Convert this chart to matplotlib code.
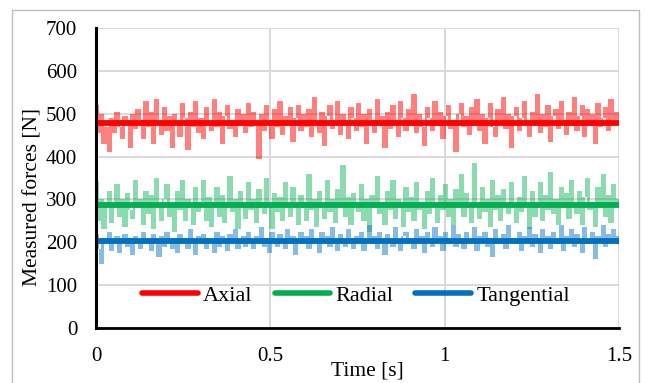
import numpy as np
import matplotlib
matplotlib.use("Agg")
import matplotlib.pyplot as plt
from matplotlib.patches import Rectangle

# ---------------- data ----------------
axial = [
    520, 455, 500, 430, 470, 410, 490, 455, 505, 470, 440, 495, 480, 420, 500, 465, 510, 485, 440, 530,
    470, 505, 430, 535, 480, 450, 515, 460, 495, 420, 500, 475, 445, 525, 490, 415, 505, 470, 530, 455,
    490, 440, 515, 480, 460, 535, 470, 505, 430, 495, 520, 465, 485, 445, 510, 475, 500, 455, 525, 470,
    505, 480, 395, 500, 460, 520, 485, 440, 510, 470, 530, 450, 495, 475, 515, 435, 490, 520, 460, 500,
    470, 510, 445, 540, 480, 455, 505, 425, 495, 520, 465, 485, 530, 450, 500, 475, 440, 515, 490, 460,
    525, 470, 500, 430, 510, 485, 455, 535, 475, 495, 420, 505, 465, 520, 480, 445, 530, 490, 460, 510,
    480, 545, 455, 500, 470, 425, 515, 490, 460, 530, 475, 505, 440, 495, 520, 465, 485, 410, 500, 525,
    470, 495, 450, 515, 480, 535, 460, 500, 430, 490, 525, 470, 445, 510, 485, 540, 465, 500, 420, 495,
    515, 460, 490, 530, 475, 445, 505, 480, 545, 455, 500, 470, 520, 435, 495, 510, 465, 530, 485, 450,
    505, 475, 540, 460, 495, 520, 445, 510, 480, 500, 430, 525, 470, 490, 515, 460, 535, 485, 505, 475,
]
radial = [
    340, 250, 300, 230, 290, 320, 245, 285, 335, 260, 300, 235, 315, 275, 255, 345, 280, 300, 240, 320,
    265, 310, 230, 350, 285, 250, 300, 335, 260, 290, 225, 320, 275, 345, 250, 300, 280, 240, 330, 270,
    295, 345, 250, 305, 235, 280, 330, 260, 310, 245, 290, 355, 270, 300, 230, 320, 285, 255, 340, 275,
    300, 245, 325, 280, 265, 350, 290, 230, 315, 270, 305, 250, 340, 285, 260, 330, 295, 240, 310, 280,
    250, 360, 275, 300, 235, 320, 285, 255, 345, 270, 300, 245, 325, 290, 380, 260, 305, 240, 315, 285,
    270, 335, 250, 300, 225, 310, 280, 355, 265, 295, 240, 320, 275, 345, 255, 300, 285, 235, 330, 270,
    305, 250, 340, 275, 295, 230, 320, 265, 350, 285, 245, 310, 275, 335, 260, 300, 240, 325, 285, 360,
    260, 315, 280, 245, 385, 290, 255, 330, 270, 300, 235, 345, 275, 310, 250, 325, 290, 265, 340, 280,
    245, 305, 270, 355, 285, 230, 320, 260, 295, 340, 250, 310, 275, 365, 265, 300, 240, 330, 280, 315,
    255, 345, 290, 265, 320, 240, 305, 350, 275, 295, 235, 330, 280, 360, 260, 310, 245, 335, 285, 300,
]
tangential = [
    220, 185, 150, 210, 195, 225, 180, 205, 215, 175, 200, 220, 190, 210, 170, 215, 200, 185, 225, 195,
    210, 180, 220, 200, 165, 215, 190, 225, 205, 185, 210, 175, 220, 195, 210, 185, 230, 200, 170, 215,
    195, 220, 185, 210, 200, 175, 225, 190, 215, 200, 180, 220, 195, 230, 185, 205, 215, 190, 225, 200,
    185, 215, 200, 235, 190, 210, 175, 225, 200, 190, 220, 205, 185, 230, 195, 215, 170, 210, 225, 195,
    215, 185, 230, 200, 210, 175, 225, 195, 215, 190, 235, 205, 180, 220, 200, 190, 230, 210, 185, 215,
    200, 225, 180, 210, 240, 195, 215, 185, 225, 200, 170, 220, 205, 190, 235, 200, 180, 215, 225, 195,
    210, 185, 230, 200, 215, 175, 225, 205, 190, 235, 200, 215, 180, 225, 195, 210, 240, 190, 220, 200,
    185, 225, 205, 195, 235, 180, 215, 200, 225, 190, 210, 165, 230, 205, 195, 220, 185, 240, 200, 210,
    195, 225, 180, 215, 200, 235, 190, 220, 205, 175, 230, 200, 215, 185, 225, 210, 195, 240, 180, 215,
    205, 230, 190, 220, 200, 175, 235, 210, 195, 225, 160, 215, 200, 240, 190, 220, 205, 230, 195, 215,
]
axial_mean = 478
radial_mean = 288
tangential_mean = 203
series_names = ["Axial", "Radial", "Tangential"]
t_start, t_end = 0.0, 1.5
x_ticks = [0, 0.5, 1, 1.5]
x_ticklabels = ["0", "0.5", "1", "1.5"]
y_ticks = [0, 100, 200, 300, 400, 500, 600, 700]

# ---------------- plot ----------------
plt.rcParams['font.family'] = ['Liberation Serif', 'DejaVu Serif']
W, H = 649, 383
fig = plt.figure(figsize=(W / 100, H / 100), dpi=100)
ax = fig.add_axes([96 / W, 1 - 328 / H, (619 - 96) / W, (328 - 28) / H])

t = np.linspace(t_start, t_end, len(axial))

c_ax, c_rad, c_tan = "#FF0000", "#00B050", "#0070C0"
for vals, c, a in [(axial, c_ax, 0.5), (radial, c_rad, 0.45), (tangential, c_tan, 0.47)]:
    v = np.asarray(vals, dtype=float)
    # dense signal: each sampling interval spans the range between consecutive samples
    lo = np.minimum(v[:-1], v[1:])
    hi = np.maximum(v[:-1], v[1:])
    ax.fill_between(t, np.append(lo, lo[-1]), np.append(hi, hi[-1]), step='post',
                    color=c, alpha=a, lw=0, zorder=2)

l1, = ax.plot([t_start, t_end], [axial_mean] * 2, color=c_ax, lw=4.2, zorder=3, solid_capstyle='butt')
l2, = ax.plot([t_start, t_end], [radial_mean] * 2, color=c_rad, lw=4.2, zorder=3, solid_capstyle='butt')
l3, = ax.plot([t_start, t_end], [tangential_mean] * 2, color=c_tan, lw=4.2, zorder=3, solid_capstyle='butt')

ax.set_xlim(t_start, t_end)
ax.set_ylim(0, 700)
ax.set_xticks(x_ticks)
ax.set_xticklabels(x_ticklabels)
ax.set_yticks(y_ticks)
ax.tick_params(length=0, labelsize=15, colors="#000000")
ax.tick_params(axis='y', pad=13.5)
ax.tick_params(axis='x', pad=13.5)

ax.grid(True, color="#D9D9D9", lw=1.4, zorder=0)
ax.set_axisbelow(True)
for s in ["top", "right"]:
    ax.spines[s].set_visible(False)
ax.spines["left"].set_linewidth(2.2)
ax.spines["bottom"].set_linewidth(2.0)
ax.spines["left"].set_zorder(5)
ax.spines["bottom"].set_zorder(5)

ax.set_ylabel("Measured forces [N]", fontsize=15.5, labelpad=0)
ax.yaxis.set_label_coords(-0.103, 0.437)
ax.set_xlabel("Time [s]", fontsize=15.5)
ax.xaxis.label.set_va('center')
ax.xaxis.set_label_coords(0.518, -0.143)

leg = ax.legend([l1, l2, l3], series_names, loc="center", bbox_to_anchor=(0.497, 0.107),
                ncol=3, frameon=False, fontsize=16, handlelength=2.5, handletextpad=0.23,
                columnspacing=1.0, borderaxespad=0)
for h in leg.get_lines():
    h.set_linewidth(4.0)
    h.set_solid_capstyle('round')

fig.patches.append(Rectangle((12 / W, -0.1), (639 - 12) / W, 1.1 - 10 / H,
                             transform=fig.transFigure, fill=False,
                             edgecolor="#BFBFBF", lw=1.0, zorder=0))

fig.savefig("out.png", dpi=100)
